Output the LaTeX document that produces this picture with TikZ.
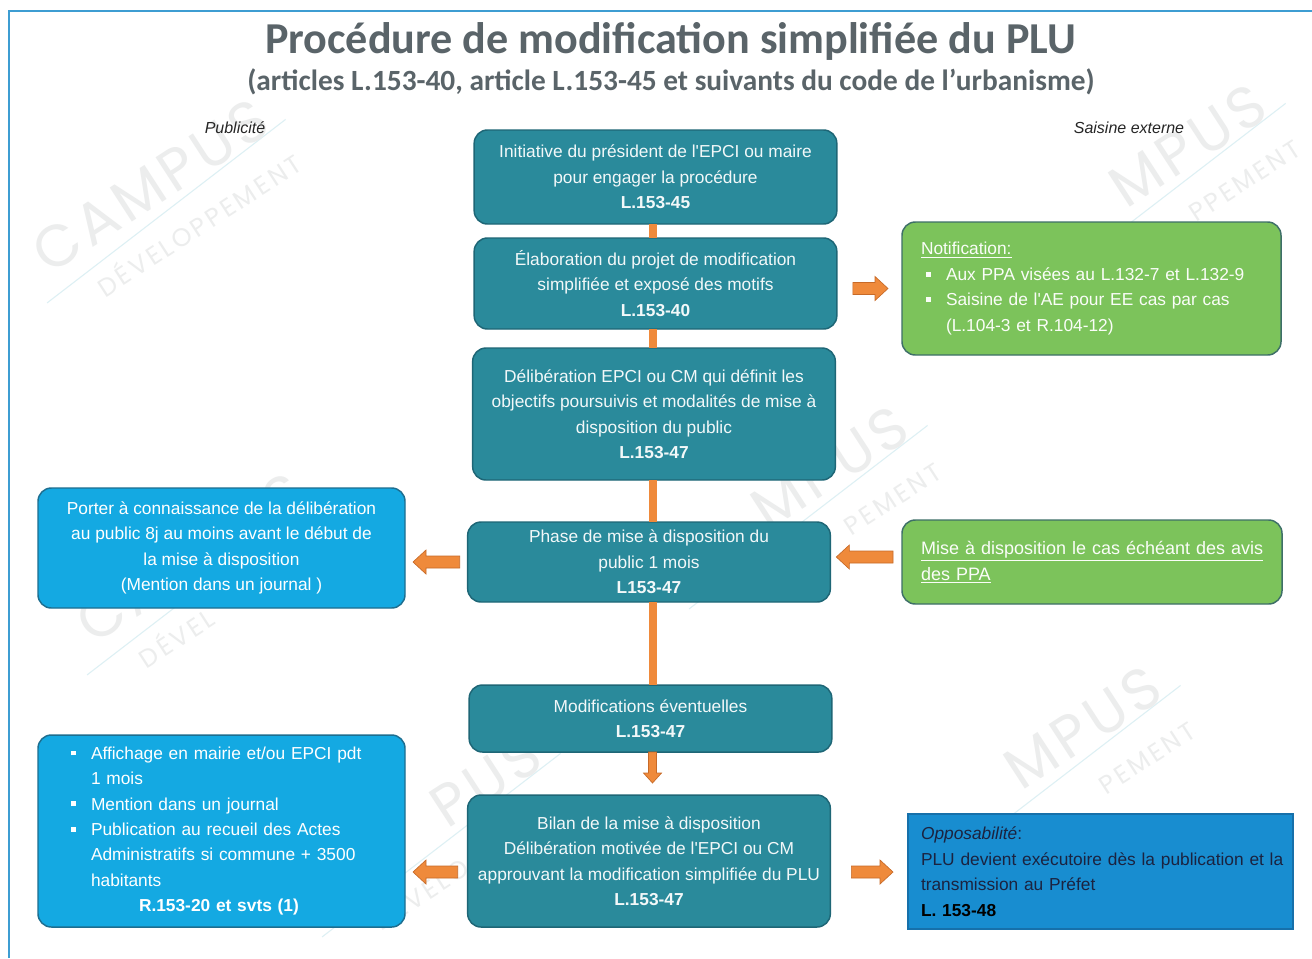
\documentclass[tikz,border=0pt]{standalone}
\usepackage{fontspec}
\setmainfont{Liberation Sans}
\newfontfamily\titlefont{Carlito}
\newfontfamily\wmfont[LetterSpace=8]{Poppins}
\newfontfamily\wmsfont[LetterSpace=12]{Poppins}
\usetikzlibrary{calc}
\setlength\parindent{0pt}
\definecolor{tealf}{HTML}{2A8A9B}
\definecolor{teall}{HTML}{1E6676}
\definecolor{lbluef}{HTML}{14A9E2}
\definecolor{lbluel}{HTML}{1D6E90}
\definecolor{greenf}{HTML}{7CC35B}
\definecolor{greenl}{HTML}{3E6F68}
\definecolor{bluef}{HTML}{188DD0}
\definecolor{bluel}{HTML}{1670AA}
\definecolor{orangef}{HTML}{EF8A3B}
\definecolor{orangel}{HTML}{C76A28}
\definecolor{titlec}{HTML}{5A6469}
\definecolor{framec}{HTML}{3E9DD2}
\definecolor{wmc}{HTML}{ECEDED}
\definecolor{wmlinec}{HTML}{DDF0F4}
\definecolor{oppotext}{HTML}{1B2340}
\newcommand\bul{\rule[2.8pt]{3.6pt}{3.6pt}}
\newcommand\bitem[2]{\hspace*{#1}\makebox[15pt][l]{\bul}#2}
\def\bsw{4.5pt}\def\bhw{9pt}\def\bhl{9.75pt}
\newcommand\wmark[5]{%
  \begin{scope}[shift={(#1,#2)}, rotate=33, transform shape]
    \draw[wmlinec, line width=0.8pt] (-150,42) -- (150,18);
    \node[wmbig] (#3c) at (0,0) {#4};
    \node[wmsmall] (#3d) at (20,58) {#5};
  \end{scope}}
\begin{document}
\begin{tikzpicture}[x=0.75pt,y=-0.75pt,
  every node/.style={inner sep=0pt,outer sep=0pt},
  base/.style={rounded corners=10pt, line width=1.1pt, font=\fontsize{13}{19.1}\selectfont},
  tealbox/.style={base, draw=teall, fill=tealf, text=white!94!tealf, align=center, minimum width=272pt},
  lbox/.style={base, draw=lbluel, fill=lbluef, text=white},
  gbox/.style={base, draw=greenl, fill=greenf, text=white!96!greenf},
  obox/.style={font=\fontsize{13}{19.1}\selectfont, draw=bluel, line width=0.8pt, fill=bluef, text=oppotext},
  spine/.style={draw=orangef, line width=6pt},
  lab/.style={font=\fontsize{12}{14}\selectfont\itshape, text=black!85},
  wmbig/.style={font=\wmfont\fontsize{44}{48}\selectfont, text=wmc},
  wmsmall/.style={font=\wmsfont\fontsize{19}{22}\selectfont, text=wmc},
  barr/.style={fill=orangef, draw=orangel, line width=0.5pt,
    to path={let \p1=(\tikztostart), \p2=(\tikztotarget),
      \n1={\x2-\x1}, \n2={\y2-\y1}, \n3={veclen(\n1,\n2)},
      \n4={\n1/\n3}, \n5={\n2/\n3} in
      ({\x1-\bsw*\n5},{\y1+\bsw*\n4})
      -- ({\x2-\bhl*\n4-\bsw*\n5},{\y2-\bhl*\n5+\bsw*\n4})
      -- ({\x2-\bhl*\n4-\bhw*\n5},{\y2-\bhl*\n5+\bhw*\n4})
      -- (\x2,\y2)
      -- ({\x2-\bhl*\n4+\bhw*\n5},{\y2-\bhl*\n5-\bhw*\n4})
      -- ({\x2-\bhl*\n4+\bsw*\n5},{\y2-\bhl*\n5-\bsw*\n4})
      -- ({\x1+\bsw*\n5},{\y1-\bsw*\n4}) -- cycle}}]
\useasboundingbox (0,0) rectangle (1312,958);
\fill[white] (0,0) rectangle (1312,958);
% watermarks (only the parts that show)
\wmark{150}{186}{wa}{CAMPUS}{DÉVELOPPEMENT}
\wmark{1150}{170}{wb}{\phantom{CA}MPUS}{\phantom{DÉVELO}PPEMENT}
\wmark{792}{492}{wc}{\phantom{CA}MPUS}{DÉ\phantom{VELOP}PEMENT}
\wmark{190}{558}{wd}{CA\phantom{MPU}S}{DÉVEL\phantom{OPPEMENT}}
\wmark{425}{820}{we}{\phantom{CAM}PUS}{DÉVELO\phantom{PPEMENT}}
\wmark{1045}{752}{wf}{\phantom{CA}MPUS}{\phantom{DÉVELOP}PEMENT}
% frame
\draw[framec, line width=1.6pt] (9,958) -- (9,11) -- (1312,11);
% titles
\node[font=\titlefont\bfseries\fontsize{33.1}{36}\selectfont, text=titlec, anchor=base] (title) at (670.5,53) {Procédure de modification simplifiée du PLU};
\node[font=\titlefont\bfseries\fontsize{22}{26}\selectfont, text=titlec, anchor=base] (subtitle) at (671,90) {(articles L.153-40, article L.153-45 et suivants du code de l’urbanisme)};
\node[lab, anchor=base] (publ) at (235,133) {Publicité};
\node[lab, anchor=base] (saisine) at (1129,133) {Saisine externe};
% central boxes
\node[tealbox, minimum height=70.5pt] (init) at (655.5,177) {Initiative du président de l\textquotesingle EPCI ou maire\\pour engager la procédure\\\textbf{L.153-45}};
\node[tealbox, minimum height=68.25pt] (elab) at (655.5,283.5) {Élaboration du projet de modification\\simplifiée et exposé des motifs\\\textbf{L.153-40}};
\node[tealbox, minimum height=99pt] (delib) at (654,414) {Délibération EPCI ou CM qui définit les\\objectifs poursuivis et modalités de mise à\\disposition du public\\\textbf{L.153-47}};
\node[tealbox, minimum height=60pt] (phase) at (649,562) {Phase de mise à disposition du\\public 1 mois\\\textbf{L153-47}};
\node[tealbox, minimum height=50.25pt] (mod) at (650.5,718.5) {Modifications éventuelles\\\textbf{L.153-47}};
\node[tealbox, minimum height=99pt] (bilan) at (649,861) {Bilan de la mise à disposition\\Délibération motivée de l\textquotesingle EPCI ou CM\\approuvant la modification simplifiée du PLU\\\textbf{L.153-47}};
% left boxes
\node[lbox, align=center, minimum width=275.25pt, minimum height=90pt] (porter) at (221.5,548) {Porter à connaissance de la délibération\\au public 8j au moins avant le début de\\la mise à disposition\\(Mention dans un journal )};
\node[lbox, text width=275.25pt, align=left, minimum height=144pt] (affich) at (221.5,831) {\bitem{24.75pt}{Affichage en mairie et/ou EPCI pdt}\\\hspace*{39.75pt}1 mois\\\bitem{24.75pt}{Mention dans un journal}\\\bitem{24.75pt}{Publication au recueil des Actes}\\\hspace*{39.75pt}Administratifs si commune + 3500\\\hspace*{39.75pt}habitants\\\hspace*{75.75pt}\textbf{R.153-20 et svts (1)}};
% right boxes
\node[gbox, text width=284.25pt, align=left, minimum height=99.75pt] (notif) at (1091.5,288.5) {\hspace*{14.25pt}\underline{Notification:}\\\bitem{18pt}{Aux PPA visées au L.132-7 et L.132-9}\\\bitem{18pt}{Saisine de l\textquotesingle AE pour EE cas par cas}\\\hspace*{33pt}(L.104-3 et R.104-12)};
\node[gbox, text width=285pt, align=left, minimum height=63pt, font=\fontsize{13.5}{19.5}\selectfont] (mad) at (1092,562) {\hspace*{14.25pt}\underline{Mise à disposition le cas échéant des avis}\\\hspace*{14.25pt}\underline{des PPA}};
\node[obox, text width=288.75pt, align=left, minimum height=86.25pt] (oppo) at (1100.5,871.5) {\hspace*{9.75pt}\textit{Opposabilité}:\\\hspace*{9.75pt}PLU devient exécutoire dès la publication et la\\\hspace*{9.75pt}transmission au Préfet\\\hspace*{9.75pt}\textcolor{black}{\textbf{L. 153-48}}};
% spine connectors
\coordinate (sp) at (652.5,0);
\draw[spine] (init.south -| sp) -- (elab.north -| sp);
\draw[spine] (elab.south -| sp) -- (delib.north -| sp);
\draw[spine] (delib.south -| sp) -- (phase.north -| sp);
\draw[spine] (phase.south -| sp) -- (mod.north -| sp);
\coordinate (d1) at (mod.south -| sp);
\coordinate (d2) at ($(bilan.north -| sp)+(0,-12)$);
\draw[barr, /utils/exec={\def\bsw{3pt}\def\bhw{6.75pt}\def\bhl{7.5pt}}] (d1) to (d2);
% side block arrows
\coordinate (a1s) at ($(elab.east)+(16,5)$);
\coordinate (a1e) at ($(notif.west)+(-14,0)$);
\draw[barr] (a1s) to (a1e);
\coordinate (a2s) at ($(phase.west)+(-8,0)$);
\coordinate (a2e) at ($(porter.east)+(8,14)$);
\draw[barr] (a2s) to (a2e);
\coordinate (a3s) at ($(mad.west)+(-9,-5)$);
\coordinate (a3e) at ($(phase.east)+(6,-5)$);
\draw[barr] (a3s) to (a3e);
\coordinate (a4s) at ($(bilan.west)+(-10,11)$);
\coordinate (a4e) at ($(affich.east)+(8,41)$);
\draw[barr] (a4s) to (a4e);
\coordinate (a5s) at ($(bilan.east)+(21,11)$);
\coordinate (a5e) at ($(oppo.west)+(-15,0.5)$);
\draw[barr] (a5s) to (a5e);
\end{tikzpicture}
\end{document}
